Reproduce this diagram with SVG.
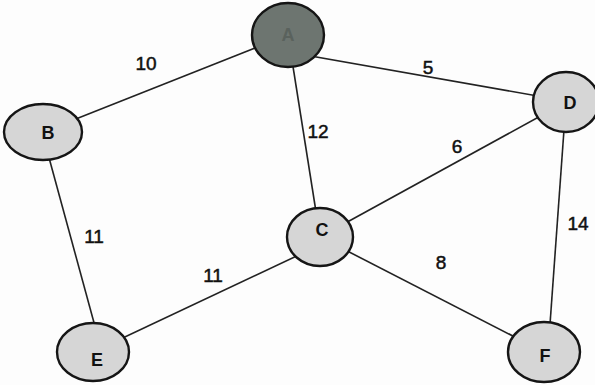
<svg xmlns="http://www.w3.org/2000/svg" width="595" height="385" viewBox="0 0 595 385">
<style>
.node{fill:#d6d6d6;stroke:#151515;stroke-width:2.4}
.dark{fill:#6d7570;stroke:#151515;stroke-width:2.4}
.edge{stroke:#222;stroke-width:1.6;fill:none}
.nl{font-family:"Liberation Sans",Arial,sans-serif;font-size:18px;font-weight:bold;fill:#111;text-anchor:middle}
.el{font-family:"Liberation Sans",Arial,sans-serif;font-size:19px;fill:#111;stroke:#111;stroke-width:0.5;text-anchor:middle}
</style>
<rect width="595" height="385" fill="#fdfdfd"/>
<g id="connectors">
<line class="edge" x1="288" y1="35" x2="43" y2="132"/>
<line class="edge" x1="288" y1="52" x2="566" y2="101"/>
<line class="edge" x1="288" y1="35" x2="320" y2="237"/>
<line class="edge" x1="566" y1="102" x2="320" y2="237"/>
<line class="edge" x1="42" y1="132" x2="102" y2="352"/>
<line class="edge" x1="320" y1="245" x2="93" y2="352"/>
<line class="edge" x1="320" y1="237" x2="544" y2="352"/>
<line class="edge" x1="566" y1="102" x2="548" y2="352"/>
<text class="el" x="146" y="70">10</text>
<text class="el" x="428" y="74">5</text>
<text class="el" x="318" y="138">12</text>
<text class="el" x="457" y="153">6</text>
<text class="el" x="94" y="243">11</text>
<text class="el" x="213" y="282">11</text>
<text class="el" x="441" y="269">8</text>
<text class="el" x="578" y="230">14</text>
</g>
<g id="A"><ellipse class="dark" cx="288" cy="35" rx="36" ry="32"/><text class="nl" x="288" y="41" style="fill:#5a625d">A</text></g>
<g id="B"><ellipse class="node" cx="43" cy="132" rx="39" ry="28"/><text class="nl" x="48" y="139">B</text></g>
<g id="D"><ellipse class="node" cx="566" cy="102" rx="33" ry="30"/><text class="nl" x="570" y="109">D</text></g>
<g id="C"><ellipse class="node" cx="320" cy="237" rx="33" ry="29"/><text class="nl" x="322" y="236">C</text></g>
<g id="E"><ellipse class="node" cx="93" cy="352" rx="36" ry="29"/><text class="nl" x="97" y="366">E</text></g>
<g id="F"><ellipse class="node" cx="544" cy="352" rx="36" ry="30"/><text class="nl" x="545" y="362">F</text></g>
</svg>
